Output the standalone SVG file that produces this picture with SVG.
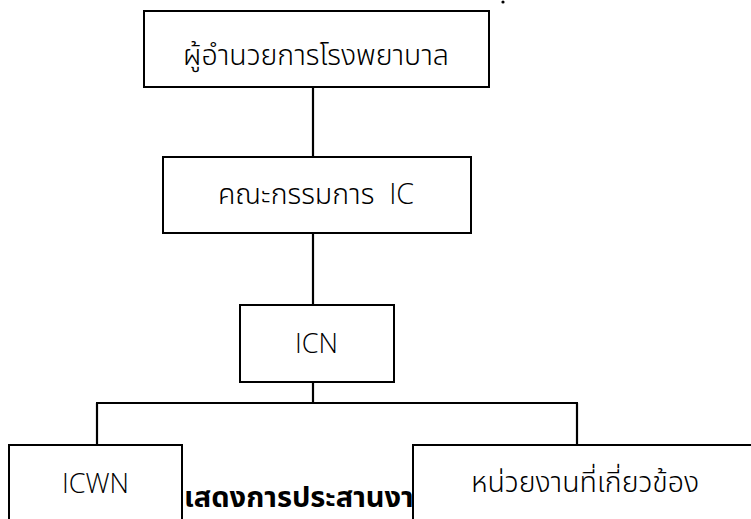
<svg xmlns="http://www.w3.org/2000/svg" width="751" height="519" viewBox="0 0 751 519">
<style>
.box{fill:#fff;stroke:#000;stroke-width:2}
.conn line{stroke:#000;stroke-width:2.2}
.th{font-family:"Leelawadee UI","Noto Sans Thai","Noto Sans Thai UI",Tahoma,"Noto Sans","DejaVu Sans",sans-serif;font-size:28.5px;font-weight:300;fill:#000;text-anchor:middle}
.lat{font-family:"Open Sans","Noto Sans","Liberation Sans",sans-serif;font-weight:300;font-size:27px;fill:#000;text-anchor:middle}
.lt{font-family:"Open Sans","Noto Sans","Liberation Sans",sans-serif;font-weight:300}
.cap{font-family:"Leelawadee UI","Noto Sans Thai","Noto Sans Thai UI",Tahoma,"Noto Sans","DejaVu Sans",sans-serif;font-size:29px;font-weight:bold;fill:#000}
</style>
<rect width="751" height="519" fill="#fff"/>
<circle cx="503" cy="2" r="1.6" fill="#000"/>
<g id="connectors" class="conn">
<line x1="313" y1="87" x2="313" y2="157"/>
<line x1="313" y1="233" x2="313" y2="305"/>
<line x1="313" y1="382" x2="313" y2="403"/>
<line x1="96" y1="403" x2="578" y2="403"/>
<line x1="97" y1="403" x2="97" y2="445"/>
<line x1="577" y1="403" x2="577" y2="445"/>
</g>
<text class="cap" x="184" y="507">เสดงการประสานงาน</text>
<g id="director">
<rect class="box" x="144" y="11" width="345" height="76"/>
<text class="th" x="316" y="65">ผู้อำนวยการโรงพยาบาล</text>
</g>
<g id="ic-committee">
<rect class="box" x="163" y="157" width="308" height="76"/>
<text class="th" x="316" y="204" xml:space="preserve">คณะกรรมการ  <tspan class="lt">IC</tspan></text>
</g>
<g id="icn">
<rect class="box" x="240" y="305" width="154" height="77"/>
<text class="lat" x="316.5" y="353">ICN</text>
</g>
<g id="icwn">
<rect class="box" x="9" y="445" width="173" height="90"/>
<text class="lat" x="95.5" y="493">ICWN</text>
</g>
<g id="related-units">
<rect class="box" x="413" y="445" width="350" height="90"/>
<text class="th" x="585" y="492">หน่วยงานที่เกี่ยวข้อง</text>
</g>
</svg>
